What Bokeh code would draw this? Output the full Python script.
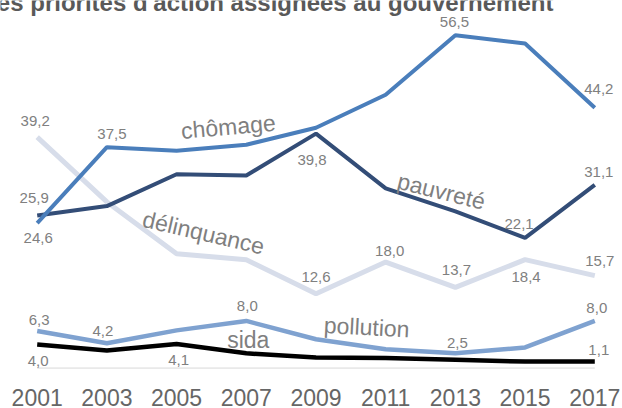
from bokeh.plotting import figure
from bokeh.models import ColumnDataSource, FixedTicker, Label
from bokeh.core.properties import value
from bokeh.embed import file_html
from bokeh.resources import INLINE
import math

# ---------------- data ----------------
years = [2001, 2003, 2005, 2007, 2009, 2011, 2013, 2015, 2017]
chomage = [24.6, 37.5, 36.9, 37.9, 40.8, 46.4, 56.5, 55.1, 44.2]
pauvrete = [25.9, 27.5, 32.9, 32.7, 39.8, 30.5, 26.6, 22.1, 31.1]
delinquance = [39.2, 28.2, 19.4, 18.4, 12.6, 18.0, 13.7, 18.4, 15.7]
pollution = [6.3, 4.2, 6.4, 8.0, 4.9, 3.2, 2.5, 3.5, 8.0]
sida = [4.0, 3.0, 4.1, 2.5, 1.8, 1.7, 1.4, 1.1, 1.1]

series_names = ["chômage", "pauvreté", "délinquance", "pollution", "sida"]
series_values = [chomage, pauvrete, delinquance, pollution, sida]
series_colors = ["#4A7EBB", "#334D77", "#D7DDEA", "#7FA2D0", "#000000"]
series_widths = [4, 4, 5, 4.5, 4.5]

tick_labels = [str(y) for y in years]
title_text = "Les priorités d'action assignées au gouvernement"

# which points carry a value label: (series index, year index, x offset px, y offset px)
value_labels = [
    (0, 0, 1, 15), (0, 1, 5, -13), (0, 6, -1, -13), (0, 8, 4, -19),
    (1, 0, -3, -17), (1, 4, -4, 26), (1, 7, -6, -14), (1, 8, 4, -13),
    (2, 0, -2, -16), (2, 4, 0, -17), (2, 5, 4, -11), (2, 6, 1, -17),
    (2, 7, 1, 17), (2, 8, 5, -15),
    (3, 0, 2, -11), (3, 1, -4, -12), (3, 3, 1, -15), (3, 6, 2, -10), (3, 8, 2, -13),
    (4, 0, 1, 16), (4, 2, 2, 16), (4, 8, 4, -12),
]
# series name labels: (series index, anchor year index, x off, y off, angle deg)
name_labels = [
    (0, 3, -18, -18, 5),
    (1, 6, -14, -20, -14),
    (2, 2, 27, -21, -13),
    (3, 5, -19, -22, -3),
    (4, 3, 2, -13, 0),
]

# ---------------- figure ----------------
ytop = 62.39
ybot = -1.6
p = figure(width=622, height=408, x_range=(1999.947, 2017.795), y_range=(ybot, ytop),
           output_backend="svg", toolbar_location=None, min_border=0,
           margin=(0, 0, 0, 0))
p.outline_line_color = None
p.grid.visible = False
p.yaxis.visible = False
p.background_fill_color = "white"
p.border_fill_color = "white"

xa = p.xaxis[0]
xa.ticker = FixedTicker(ticks=years)
xa.major_label_overrides = {y: t for y, t in zip(years, tick_labels)}
xa.axis_line_color = None
xa.major_tick_line_color = None
xa.minor_tick_line_color = None
xa.major_tick_out = 0
xa.major_label_standoff = 11
xa.major_label_text_font = "Liberation Sans"
xa.major_label_text_font_size = "23px"
xa.major_label_text_color = "#666666"

# baseline
p.line(x=[years[0], years[-1]], y=[0, 0], line_color="#D9D9D9", line_width=1)

# series lines (light ones first)
order = [2, 3, 4, 1, 0]
for i in order:
    p.line(x=years, y=series_values[i], line_color=series_colors[i],
           line_width=series_widths[i])

# value labels
def fmt(v):
    return f"{v:.1f}".replace(".", ",")

src = ColumnDataSource(dict(
    x=[years[j] for s, j, dx, dy in value_labels],
    y=[series_values[s][j] for s, j, dx, dy in value_labels],
    text=[fmt(series_values[s][j]) for s, j, dx, dy in value_labels],
    xo=[dx for s, j, dx, dy in value_labels],
    yo=[dy for s, j, dx, dy in value_labels],
))
p.text(x="x", y="y", text="text", x_offset="xo", y_offset="yo", source=src,
       text_font=value("Liberation Sans"), text_font_size="15px",
       text_color="#808080", text_align="center", text_baseline="middle")

nsrc = ColumnDataSource(dict(
    x=[years[j] for s, j, dx, dy, a in name_labels],
    y=[series_values[s][j] for s, j, dx, dy, a in name_labels],
    text=[series_names[s] for s, j, dx, dy, a in name_labels],
    xo=[dx for s, j, dx, dy, a in name_labels],
    yo=[dy for s, j, dx, dy, a in name_labels],
    ang=[math.radians(a) for s, j, dx, dy, a in name_labels],
))
p.text(x="x", y="y", text="text", x_offset="xo", y_offset="yo", angle="ang", source=nsrc,
       text_font=value("Liberation Sans"), text_font_size="23px",
       text_color="#7F7F7F", text_align="center", text_baseline="middle")

title = Label(x=years[0], y=ytop, x_offset=-55, y_offset=-2, text=title_text,
              text_font="Liberation Sans", text_font_style="bold", text_font_size="24px",
              text_color="#595959", text_baseline="alphabetic", text_align="left")
p.add_layout(title)

open("out.html", "w").write(file_html(p, INLINE))
